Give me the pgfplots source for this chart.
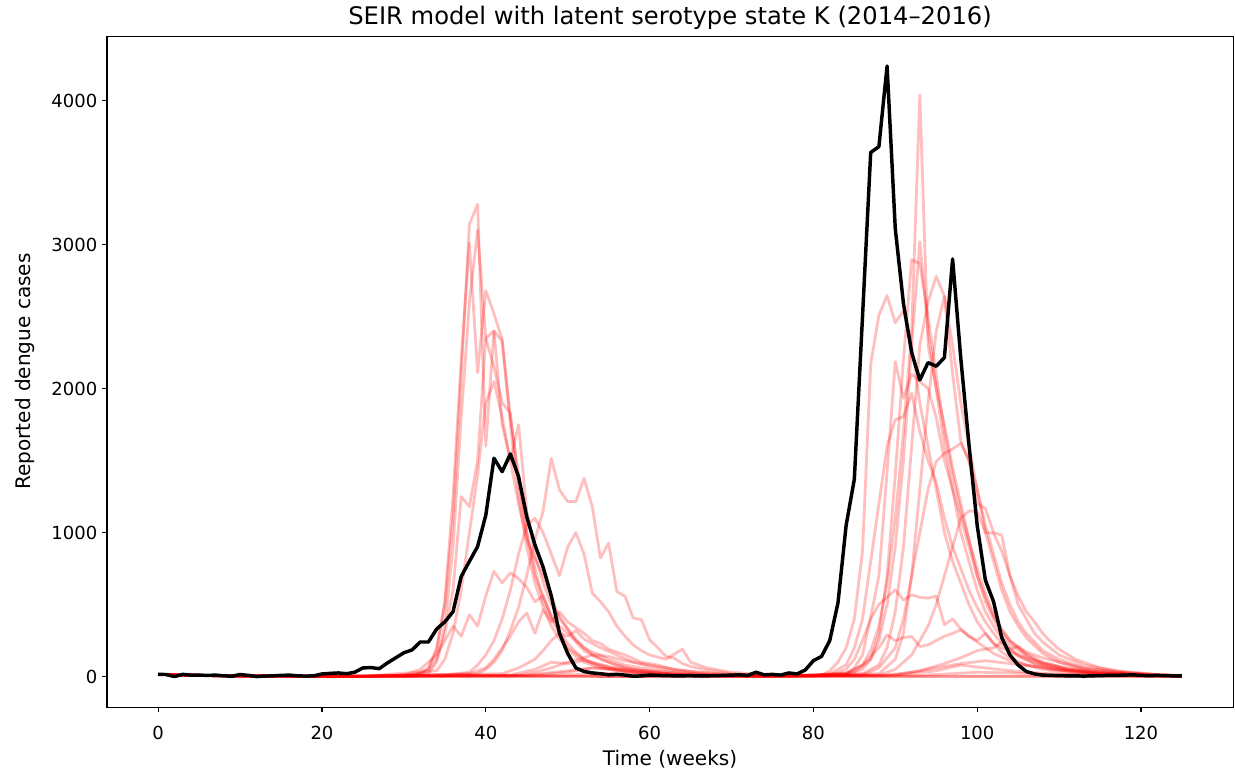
\documentclass[border=0pt]{standalone}
\usepackage{fontspec}
\setmainfont{DejaVu Sans}
\usepackage{pgfplots}
\pgfplotsset{compat=1.18}
\begin{document}
\begin{tikzpicture}
\useasboundingbox (-77.33pt,-48.42pt) rectangle (815.17pt,510.98pt);
\begin{axis}[
  scale only axis, width=813.8pt, height=484.9pt,
  at={(0,0)}, anchor=south west,
  xmin=-6.25, xmax=131.25, ymin=-212, ymax=4448,
  xtick={0,20,...,120}, ytick={0,1000,2000,3000,4000},
  tick align=outside, tick pos=left, major tick length=3.5pt,
  tick style={line width=0.8pt, black},
  axis line style={line width=0.8pt},
  /pgf/number format/assume math mode=true,
  /pgf/number format/1000 sep={},
  ticklabel style={font=\fontsize{13}{15.5}\selectfont},
  xticklabel style={yshift=-6.5pt},
  xlabel={Time (weeks)}, ylabel={Reported dengue cases},
  label style={font=\fontsize{14.5}{17}\selectfont},
  xlabel style={at={(axis description cs:0.5,0)}, anchor=center, yshift=-38pt},
  ylabel style={yshift=5pt},
  title={SEIR model with latent serotype state K (2014–2016)},
  title style={font=\fontsize{17.5}{20}\selectfont, yshift=-5pt},
  redrun/.style={color=red, opacity=0.25, line width=2pt, line join=round},
]
% Simulated runs
\addplot[redrun] coordinates {(0,15)(3,10)(8,5)(15,3)(25,2)(30,5)(32,20)(33,60)(34,200)(35,500)(36,1100)(37,2100)(38,3140)(39,3280)(40,1600)(41,2400)(42,2330)(43,1750)(44,1250)(45,900)(46,650)(47,480)(48,350)(49,260)(50,190)(51,140)(52,100)(53,80)(54,60)(56,40)(58,25)(60,15)(63,8)(66,3)(70,1)(80,5)(82,20)(84,80)(85,200)(86,400)(87,800)(88,1200)(89,1600)(90,1783)(91,1805)(92,1968)(93,1700)(94,1500)(95,1350)(96,1100)(97,900)(98,750)(99,600)(100,480)(101,380)(102,300)(103,230)(105,140)(107,90)(110,50)(114,25)(120,8)(125,3)};
\addplot[redrun] coordinates {(0,15)(3,10)(8,5)(15,3)(25,2)(31,10)(33,50)(34,180)(35,520)(36,1250)(37,2200)(38,3010)(39,2110)(40,2680)(41,2520)(42,2340)(43,1800)(44,1400)(45,1000)(46,750)(47,520)(48,400)(49,300)(50,200)(51,160)(52,120)(53,90)(55,55)(57,35)(60,20)(64,8)(70,2)(80,4)(82,10)(84,50)(85,120)(86,250)(87,400)(88,500)(89,550)(90,602)(91,531)(92,567)(93,550)(94,544)(95,559)(96,359)(97,400)(98,330)(99,280)(100,240)(101,200)(102,160)(104,110)(106,80)(109,50)(113,25)(118,10)(125,3)};
\addplot[redrun] coordinates {(0,15)(3,10)(8,5)(15,3)(25,2)(31,5)(33,40)(34,120)(35,350)(36,900)(37,1800)(38,2600)(39,3100)(40,2350)(41,2150)(42,1900)(43,1830)(44,1350)(45,1000)(46,700)(47,560)(48,420)(49,320)(50,230)(51,170)(52,120)(54,80)(56,50)(58,30)(62,12)(68,3)(80,5)(84,20)(86,80)(88,200)(89,289)(90,250)(91,270)(92,278)(93,208)(94,220)(95,250)(96,280)(97,300)(98,324)(99,280)(100,250)(101,300)(102,230)(103,200)(105,150)(107,110)(110,70)(114,35)(119,15)(125,5)};
\addplot[redrun] coordinates {(0,15)(3,10)(8,5)(15,3)(25,2)(33,20)(34,100)(35,300)(36,600)(37,1250)(38,1180)(39,1500)(40,2350)(41,2400)(42,1750)(43,1500)(44,1750)(45,1150)(46,850)(47,650)(48,500)(49,420)(50,330)(51,240)(52,180)(53,150)(55,100)(57,60)(60,35)(63,15)(70,3)(88,5)(92,30)(95,60)(98,90)(101,110)(104,90)(107,70)(110,50)(115,25)(120,10)(125,5)};
\addplot[redrun] coordinates {(0,15)(3,10)(8,5)(15,3)(25,2)(34,40)(35,120)(36,300)(37,600)(38,1000)(39,1400)(40,1900)(41,2050)(42,1800)(43,1500)(44,1200)(45,950)(46,820)(47,700)(48,560)(49,400)(50,330)(51,260)(52,200)(53,150)(54,120)(56,80)(58,50)(61,25)(65,10)(72,2)(90,10)(93,40)(96,90)(98,130)(100,180)(102,200)(103,240)(104,190)(105,210)(106,170)(108,130)(110,100)(113,60)(117,30)(122,12)(125,5)};
\addplot[redrun] coordinates {(0,15)(3,10)(8,5)(15,3)(25,2)(36,10)(39,20)(40,50)(41,100)(42,180)(43,320)(44,480)(45,700)(46,950)(47,1150)(48,1516)(49,1296)(50,1215)(51,1215)(52,1377)(53,1180)(54,823)(55,927)(56,591)(57,557)(58,407)(59,395)(60,256)(61,200)(62,140)(63,128)(64,90)(65,70)(67,45)(70,20)(75,5)(84,10)(86,50)(87,120)(88,300)(89,700)(90,1400)(91,2200)(92,2895)(93,2867)(94,2500)(95,2100)(96,1700)(97,1400)(98,1150)(99,950)(100,700)(101,520)(102,400)(103,300)(104,230)(106,140)(108,85)(111,45)(115,20)(120,8)(125,3)};
\addplot[redrun] coordinates {(0,15)(3,10)(8,5)(15,3)(25,2)(35,10)(38,30)(39,80)(40,150)(41,250)(42,400)(43,600)(44,850)(45,1050)(46,1100)(47,1000)(48,850)(49,700)(50,900)(51,1000)(52,850)(53,580)(54,520)(55,450)(56,350)(57,280)(58,220)(59,180)(60,150)(62,120)(64,190)(65,100)(67,60)(70,30)(75,10)(80,3)(86,20)(88,80)(89,200)(90,450)(91,900)(92,1600)(93,2300)(94,2600)(95,2780)(96,2640)(97,2300)(98,1900)(99,1600)(100,1300)(101,1000)(102,800)(103,600)(104,450)(105,350)(106,270)(108,160)(110,100)(113,50)(117,25)(122,10)(125,5)};
\addplot[redrun] coordinates {(0,15)(3,10)(8,5)(15,3)(25,2)(30,10)(32,50)(33,100)(34,150)(35,250)(36,350)(37,280)(38,430)(39,350)(40,560)(41,730)(42,650)(43,720)(44,680)(45,620)(46,520)(47,560)(48,420)(49,350)(50,300)(51,250)(52,200)(53,170)(54,150)(55,120)(57,80)(60,50)(63,25)(68,10)(75,3)(84,20)(86,80)(87,180)(88,350)(89,650)(90,1100)(91,1700)(92,2400)(93,4040)(94,2300)(95,2000)(96,1600)(97,1300)(98,1000)(99,800)(100,600)(101,450)(102,350)(103,270)(104,200)(105,150)(107,90)(109,55)(112,30)(116,15)(120,5)(125,2)};
\addplot[redrun] coordinates {(0,15)(3,10)(8,5)(15,3)(25,2)(38,20)(40,60)(41,120)(42,200)(43,280)(44,380)(45,441)(46,300)(47,464)(48,380)(49,450)(50,380)(51,340)(52,300)(53,250)(54,230)(55,190)(57,150)(59,100)(61,80)(63,50)(66,30)(70,15)(78,3)(85,30)(87,120)(88,250)(89,500)(90,900)(91,1500)(92,2300)(93,3020)(94,2400)(95,2000)(96,1750)(97,1450)(98,1200)(99,950)(100,750)(101,580)(102,430)(103,330)(104,250)(106,150)(108,90)(111,50)(115,25)(120,10)(125,5)};
\addplot[redrun] coordinates {(0,15)(3,10)(8,5)(15,3)(25,2)(42,20)(44,60)(46,120)(47,180)(48,250)(49,300)(50,280)(51,320)(52,260)(53,230)(54,200)(56,150)(58,100)(60,70)(63,40)(66,20)(72,3)(81,10)(82,40)(83,100)(84,200)(85,400)(86,870)(87,2170)(88,2510)(89,2646)(90,2456)(91,2541)(92,2300)(93,1900)(94,1600)(95,1300)(96,1000)(97,800)(98,650)(99,500)(100,380)(101,300)(102,230)(103,170)(104,130)(106,80)(108,50)(111,25)(115,10)(125,2)};
\addplot[redrun] coordinates {(0,15)(3,10)(8,5)(15,3)(25,2)(44,10)(46,30)(48,60)(50,100)(52,130)(53,150)(55,140)(57,110)(60,80)(63,50)(66,30)(70,10)(76,2)(84,20)(85,60)(86,150)(87,413)(88,700)(89,1420)(90,2187)(91,1932)(92,2100)(93,2050)(94,2000)(95,1800)(96,1500)(97,1300)(98,1100)(99,900)(100,700)(101,550)(102,420)(103,320)(104,250)(106,160)(108,100)(111,55)(115,25)(120,10)(125,5)};
\addplot[redrun] coordinates {(0,15)(3,10)(8,5)(15,3)(25,2)(45,5)(50,30)(53,60)(56,55)(60,40)(65,20)(70,5)(75,2)(88,20)(90,120)(91,300)(92,700)(93,1300)(94,1900)(95,2400)(96,2640)(97,2102)(98,1635)(99,1500)(100,1200)(101,1168)(102,1000)(103,983)(104,700)(105,500)(106,400)(107,300)(108,240)(110,150)(113,80)(117,40)(122,15)(125,8)};
\addplot[redrun] coordinates {(0,15)(3,10)(8,5)(15,3)(25,2)(43,10)(46,50)(48,100)(50,90)(52,110)(55,70)(58,40)(62,20)(68,3)(88,10)(90,50)(92,150)(94,350)(95,500)(96,700)(97,900)(98,1100)(99,1150)(100,1146)(101,1000)(102,995)(103,870)(104,700)(105,560)(106,450)(107,380)(108,300)(109,240)(110,190)(112,120)(115,60)(118,30)(122,12)(125,5)};
\addplot[redrun] coordinates {(0,15)(3,10)(8,5)(15,3)(30,2)(60,1)(86,10)(88,60)(90,200)(91,400)(92,700)(93,1000)(94,1300)(95,1493)(96,1550)(97,1580)(98,1620)(99,1500)(100,1300)(101,1050)(102,850)(103,650)(104,500)(105,380)(106,300)(108,180)(110,120)(113,60)(117,30)(122,12)(125,5)};
\addplot[redrun] coordinates {(0,15)(3,10)(8,5)(15,3)(30,2)(45,10)(50,40)(53,60)(56,45)(60,25)(66,8)(75,2)(90,10)(95,40)(98,80)(101,60)(105,35)(110,15)(125,3)};
\addplot[redrun] coordinates {(0,15)(3,10)(8,5)(15,3)(30,2)(60,1)(92,5)(97,20)(100,30)(104,25)(110,12)(125,3)};
\addplot[redrun] coordinates {(0,15)(3,10)(8,5)(15,3)(30,2)(48,8)(55,20)(60,12)(70,3)(90,2)(125,1)};
\addplot[redrun] coordinates {(0,15)(3,10)(8,5)(15,3)(30,2)(60,1)(90,1)(125,1)};
% Observed data
\addplot[black, line width=2.5pt, line join=round] coordinates {
(0,15)(1,14)(2,0)(3,15)(4,10)(5,10)(6,8)(7,10)(8,5)(9,2)(10,14)(11,8)(12,0)(13,3)(14,5)(15,8)(16,10)(17,5)(18,3)(19,5)
(20,18)(21,22)(22,25)(23,20)(24,30)(25,60)(26,62)(27,55)(28,95)(29,130)(30,165)(31,185)(32,240)(33,240)(34,330)(35,380)(36,450)(37,695)(38,800)(39,903)
(40,1120)(41,1516)(42,1423)(43,1546)(44,1389)(45,1111)(46,915)(47,760)(48,560)(49,300)(50,160)(51,60)(52,35)(53,25)(54,20)(55,12)(56,15)(57,10)(58,2)(59,5)
(60,10)(61,8)(62,6)(63,5)(64,5)(65,6)(66,4)(67,5)(68,6)(69,8)(70,10)(71,12)(72,8)(73,30)(74,12)(75,15)(76,10)(77,25)(78,18)(79,45)
(80,110)(81,140)(82,250)(83,510)(84,1050)(85,1370)(86,2500)(87,3640)(88,3680)(89,4240)(90,3110)(91,2590)(92,2250)(93,2060)(94,2180)(95,2155)(96,2215)(97,2900)(98,2210)(99,1610)
(100,1050)(101,670)(102,520)(103,270)(104,150)(105,80)(106,35)(107,18)(108,10)(109,8)(110,6)(111,5)(112,5)(113,3)(114,5)(115,6)(116,8)(117,8)(118,10)(119,12)
(120,8)(121,6)(122,8)(123,6)(124,5)(125,5)};
\end{axis}
\end{tikzpicture}
\end{document}
